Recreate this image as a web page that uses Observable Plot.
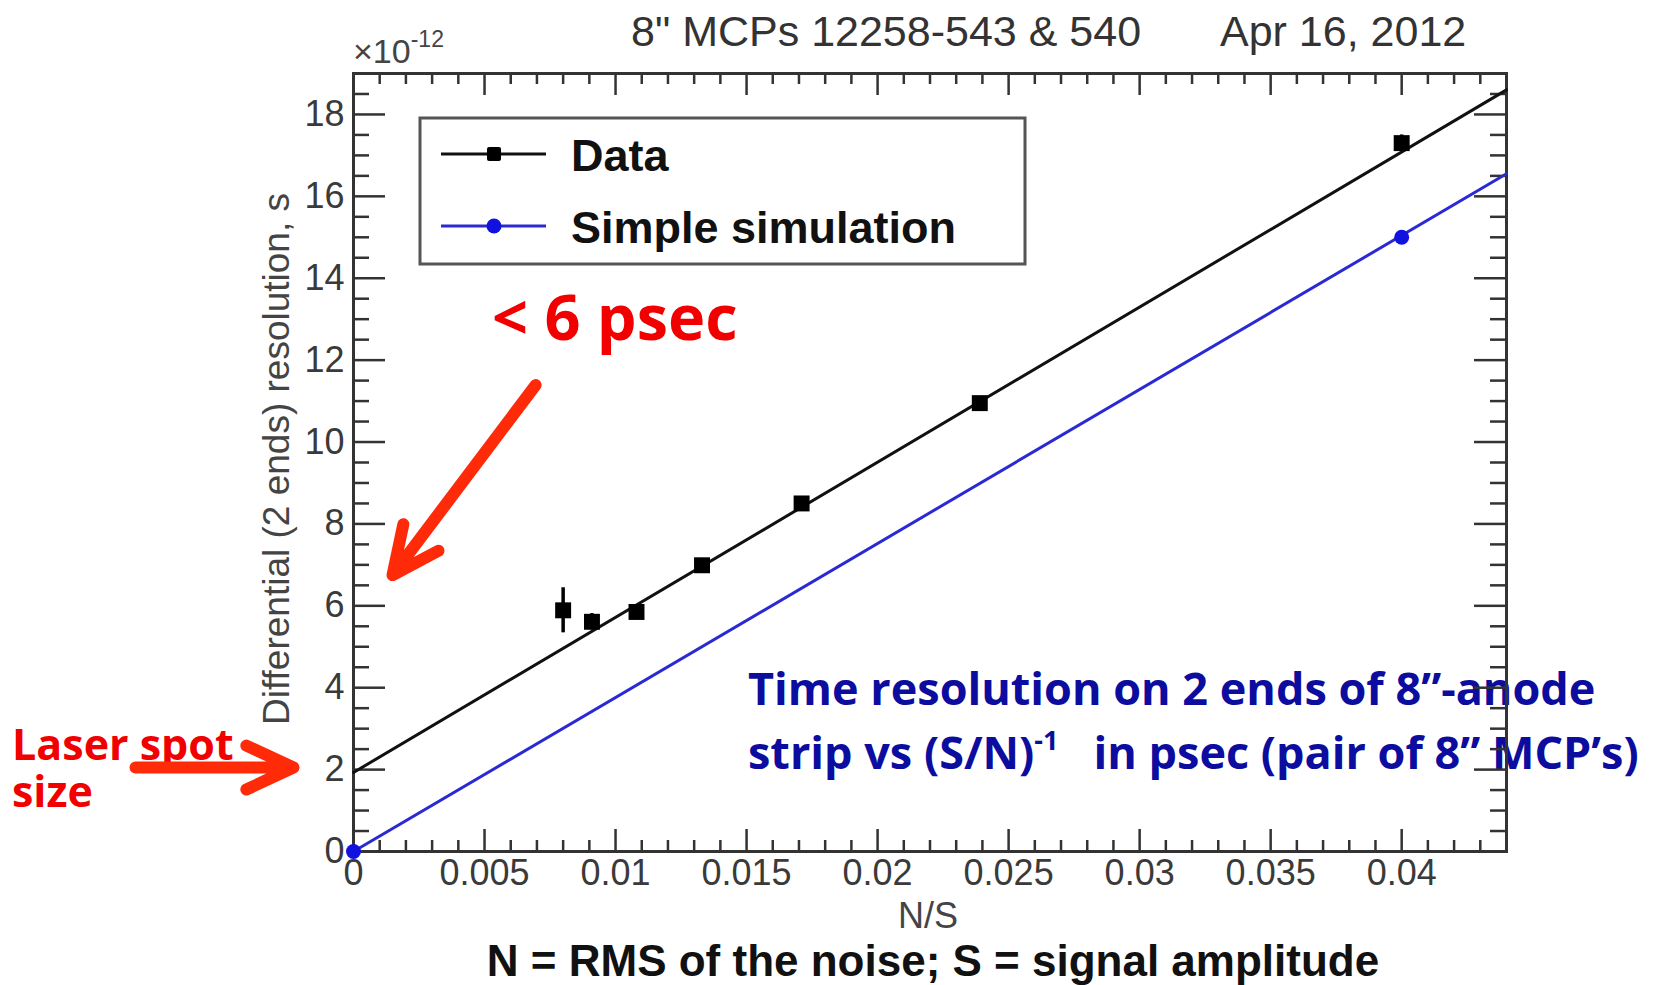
<!DOCTYPE html>
<html>
<head>
<meta charset="utf-8">
<script src="https://cdn.jsdelivr.net/npm/d3@7"></script>
<script src="https://cdn.jsdelivr.net/npm/@observablehq/plot@0.6"></script>
<style>
  html, body { margin: 0; padding: 0; background: #fff; }
  #wrap { position: relative; width: 1654px; height: 985px; overflow: hidden; background: #fff; }
  #wrap > svg { position: absolute; left: 0; top: 0; }
</style>
</head>
<body>
<div id="wrap"></div>
<script>
// ---- data ----
const nsData   = [0.0080, 0.0091, 0.0108, 0.0133, 0.0171, 0.0239, 0.0400];   // N/S
const resData  = [5.89, 5.61, 5.85, 6.99, 8.50, 10.95, 17.30];             // ×1e-12 s
const errData  = [0.55, 0.20, 0.15, 0.15, 0.15, 0.15, 0.20];
const fitX     = [0, 0.044];
const fitY     = [1.93, 18.60];
const simX     = [0, 0.04];
const simY     = [0, 15.0];
const simLineX = [0, 0.044];
const simLineY = [0, 16.55];
const xTicks      = [0, 0.005, 0.01, 0.015, 0.02, 0.025, 0.03, 0.035, 0.04];
const xTickLabels = ["0", "0.005", "0.01", "0.015", "0.02", "0.025", "0.03", "0.035", "0.04"];
const yTicks      = [0, 2, 4, 6, 8, 10, 12, 14, 16, 18];
const yTickLabels = ["0", "2", "4", "6", "8", "10", "12", "14", "16", "18"];
// annotation arrows in data coordinates
const arrowX1 = [0.00695, -0.00832];
const arrowY1 = [11.39, 2.05];
const arrowX2 = [0.00149, -0.00229];
const arrowY2 = [6.75, 2.05];

// ---- tables ----
const dataRows = nsData.map((x, i) => ({x, y: resData[i], e: errData[i]}));
const fitRows = fitX.map((x, i) => ({x, y: fitY[i]}));
const simRows = simX.map((x, i) => ({x, y: simY[i]}));
const simLineRows = simLineX.map((x, i) => ({x, y: simLineY[i]}));
const arrowRows = arrowX1.map((x1, i) => ({x1, y1: arrowY1[i], x2: arrowX2[i], y2: arrowY2[i]}));
const xMinor = d3.range(0, 0.0445, 0.001).filter(v => !xTicks.some(t => Math.abs(t - v) < 1e-9));
const yMinor = d3.range(0, 19.01, 0.5).filter(v => !yTicks.includes(v));

const W = 1654, H = 985;
const mL = 353, mR = 148, mT = 73, mB = 134;
const PW = W - mL - mR, PH = H - mT - mB;
const axisCol = "#333";
const xLab = d => xTickLabels[xTicks.findIndex(t => Math.abs(t - d) < 1e-9)];
const yLab = d => yTickLabels[yTicks.indexOf(d)];

const chart = Plot.plot({
  width: W, height: H,
  marginLeft: mL, marginRight: mR, marginTop: mT, marginBottom: mB,
  x: {domain: [0, 0.044], axis: null},
  y: {domain: [0, 19], axis: null},
  style: {background: "transparent", overflow: "visible", fontFamily: "'Liberation Sans', Arial, sans-serif", color: "#3a3a3a"},
  marks: [
    // inward ticks on all four sides (ROOT style)
    Plot.tickX(xMinor, {x: d => d, stroke: axisCol, strokeWidth: 2.5, insetTop: PH - 11}),
    Plot.tickX(xTicks, {x: d => d, stroke: axisCol, strokeWidth: 2.5, insetTop: PH - 22}),
    Plot.tickX(xMinor, {x: d => d, stroke: axisCol, strokeWidth: 2.5, insetBottom: PH - 11}),
    Plot.tickX(xTicks, {x: d => d, stroke: axisCol, strokeWidth: 2.5, insetBottom: PH - 22}),
    Plot.tickY(yMinor, {y: d => d, stroke: axisCol, strokeWidth: 2.5, insetRight: PW - 16}),
    Plot.tickY(yTicks, {y: d => d, stroke: axisCol, strokeWidth: 2.5, insetRight: PW - 32}),
    Plot.tickY(yMinor, {y: d => d, stroke: axisCol, strokeWidth: 2.5, insetLeft: PW - 16}),
    Plot.tickY(yTicks, {y: d => d, stroke: axisCol, strokeWidth: 2.5, insetLeft: PW - 32}),
    Plot.frame({stroke: axisCol, strokeWidth: 3}),
    Plot.axisX(xTicks, {anchor: "bottom", tickSize: 0, tickPadding: 8, tickFormat: xLab, fontSize: 36, label: null, fill: "#3a3a3a"}),
    Plot.axisY(yTicks, {anchor: "left", tickSize: 0, tickPadding: 9, tickFormat: yLab, fontSize: 36, label: null, fill: "#3a3a3a"}),
    // fit line through data, and simulation line
    Plot.line(fitRows, {x: "x", y: "y", stroke: "#111", strokeWidth: 3}),
    Plot.line(simLineRows, {x: "x", y: "y", stroke: "#2a2ad4", strokeWidth: 3}),
    Plot.ruleX(dataRows, {x: "x", y1: d => d.y - d.e, y2: d => d.y + d.e, stroke: "#000", strokeWidth: 3.5}),
    Plot.dot(dataRows, {x: "x", y: "y", symbol: "square", r: 9, fill: "#000", stroke: "none"}),
    Plot.dot(simRows, {x: "x", y: "y", symbol: "circle", r: 7.5, fill: "#1212e0", stroke: "none"}),
    // red annotation arrows
    Plot.arrow(arrowRows, {x1: "x1", y1: "y1", x2: "x2", y2: "y2", stroke: "#ff2a08", strokeWidth: 12,
      headLength: 6.5, headAngle: 50, strokeLinecap: "round", strokeLinejoin: "round"})
  ]
});

const wrap = d3.select("#wrap");

// ---- overlay: titles, labels, legend, annotation texts ----
const ov = wrap.append("svg").attr("width", W).attr("height", H)
  .attr("font-family", "'Liberation Sans', Arial, sans-serif");

ov.append("text").attr("x", 631).attr("y", 46).attr("font-size", 43).attr("fill", "#333")
  .text("8\" MCPs 12258-543 & 540");
ov.append("text").attr("x", 1220).attr("y", 46).attr("font-size", 43).attr("fill", "#333")
  .text("Apr 16, 2012");
const t10 = ov.append("text").attr("x", 353).attr("y", 63).attr("font-size", 34).attr("fill", "#444");
t10.append("tspan").text("×10");
t10.append("tspan").attr("dy", -16).attr("font-size", 23).text("-12");
ov.append("text").attr("transform", "translate(289,459) rotate(-90)").attr("text-anchor", "middle")
  .attr("font-size", 37).attr("fill", "#444").text("Differential (2 ends) resolution, s");
ov.append("text").attr("x", 928).attr("y", 928).attr("text-anchor", "middle")
  .attr("font-size", 36).attr("fill", "#444").text("N/S");
ov.append("text").attr("x", 933).attr("y", 976).attr("text-anchor", "middle")
  .attr("font-size", 44).attr("font-weight", "bold").attr("fill", "#111")
  .text("N = RMS of the noise; S = signal amplitude");

// legend
const lg = ov.append("g");
lg.append("rect").attr("x", 420).attr("y", 118).attr("width", 605).attr("height", 146)
  .attr("fill", "#fff").attr("stroke", "#555").attr("stroke-width", 3);
lg.append("line").attr("x1", 441).attr("x2", 546).attr("y1", 154).attr("y2", 154).attr("stroke", "#111").attr("stroke-width", 3);
lg.append("rect").attr("x", 487).attr("y", 147).attr("width", 14).attr("height", 14).attr("rx", 2).attr("fill", "#000");
lg.append("line").attr("x1", 441).attr("x2", 546).attr("y1", 226).attr("y2", 226).attr("stroke", "#2a2ad4").attr("stroke-width", 3);
lg.append("circle").attr("cx", 494).attr("cy", 226).attr("r", 7.5).attr("fill", "#1212e0");
lg.append("text").attr("x", 571).attr("y", 171).attr("font-size", 45).attr("font-weight", "bold").attr("fill", "#111").text("Data");
lg.append("text").attr("x", 571).attr("y", 243).attr("font-size", 45).attr("font-weight", "bold").attr("fill", "#111").text("Simple simulation");

// red annotations
const red = "#f20000";
ov.append("text").attr("x", 492).attr("y", 340).attr("font-family", "'Open Sans', sans-serif")
  .attr("font-size", 63).attr("font-weight", "bold").attr("fill", red).text("< 6 psec");
ov.append("text").attr("x", 12).attr("y", 760).attr("font-family", "'Open Sans', sans-serif")
  .attr("font-size", 43).attr("font-weight", "bold").attr("fill", red).text("Laser spot");
ov.append("text").attr("x", 12).attr("y", 807).attr("font-family", "'Open Sans', sans-serif")
  .attr("font-size", 43).attr("font-weight", "bold").attr("fill", red).text("size");

// blue annotation
const navy = "#0c0c9e";
ov.append("text").attr("x", 748).attr("y", 705).attr("font-family", "'Open Sans', sans-serif")
  .attr("font-size", 45).attr("font-weight", "bold").attr("fill", navy).text("Time resolution on 2 ends of 8”-anode");
const b2 = ov.append("text").attr("x", 748).attr("y", 769).attr("font-family", "'Open Sans', sans-serif")
  .attr("font-size", 45).attr("font-weight", "bold").attr("fill", navy).style("white-space", "pre");
b2.append("tspan").text("strip vs (S/N)");
b2.append("tspan").attr("dy", -19).attr("font-size", 27).text("-1");
b2.append("tspan").attr("dy", 19).text("   in psec (pair of 8” MCP’s)");

// Plot SVG on top
wrap.node().appendChild(chart);
</script>
</body>
</html>
